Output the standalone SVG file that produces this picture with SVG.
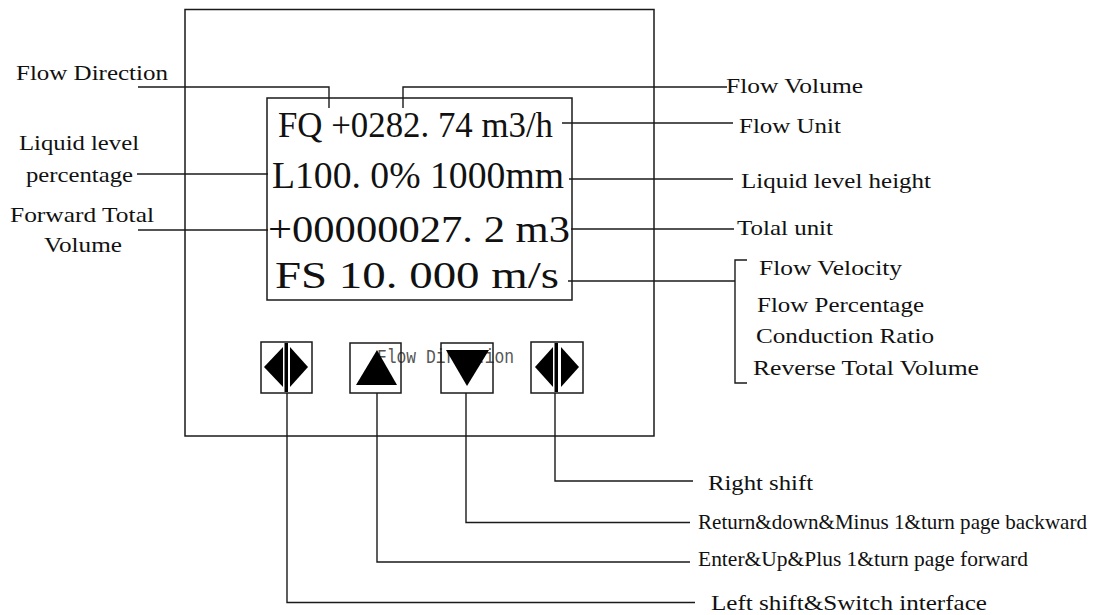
<svg xmlns="http://www.w3.org/2000/svg" width="1111" height="615" viewBox="0 0 1111 615">
<style>
.ln{fill:none;stroke:#1a1a1a;stroke-width:1.4}
.bx{fill:none;stroke:#1a1a1a;stroke-width:1.5}
.lb{fill:#111;font-size:22px}
.lcd{fill:#111}
.ghost{fill:#555;font-size:20px}
.sym{fill:#000;stroke:none}
</style>
<rect width="1111" height="615" fill="#fff"/>

<g id="panel">
  <rect class="bx" x="185" y="9.5" width="469" height="426.5"/>
</g>

<g id="display" font-family="Liberation Serif, Tinos, Times New Roman, Times, serif">
  <rect class="bx" x="267" y="98" width="305" height="202"/>
  <text class="lcd" x="278" y="137" font-size="35" textLength="275" lengthAdjust="spacingAndGlyphs">FQ +0282. 74 m3/h</text>
  <text class="lcd" x="272" y="188" font-size="38" textLength="292" lengthAdjust="spacingAndGlyphs">L100. 0% 1000mm</text>
  <text class="lcd" x="268" y="242" font-size="38" textLength="302" lengthAdjust="spacingAndGlyphs">+00000027. 2 m3</text>
  <text class="lcd" x="275" y="288" font-size="37" textLength="284" lengthAdjust="spacingAndGlyphs">FS 10. 000 m/s</text>
</g>

<text class="ghost" font-family="Liberation Mono, Cousine, Courier New, monospace" x="377" y="363" textLength="137" lengthAdjust="spacingAndGlyphs">Flow Direction</text>

<g id="btn-left">
  <rect class="bx" x="261" y="342" width="51" height="51"/>
  <polygon class="sym" points="264,367 283,347 283,387"/>
  <rect class="sym" x="284.5" y="343" width="3.5" height="49"/>
  <polygon class="sym" points="290,347 308,367 290,387"/>
</g>
<g id="btn-up">
  <rect class="bx" x="350" y="343" width="51" height="50"/>
  <polygon class="sym" points="377,350 397,385 356,385"/>
</g>
<g id="btn-down">
  <rect class="bx" x="441" y="343" width="52" height="50"/>
  <polygon class="sym" points="446,350 489,350 467,386"/>
</g>
<g id="btn-right">
  <rect class="bx" x="531" y="342" width="52" height="51"/>
  <polygon class="sym" points="535,367 553,347 553,387"/>
  <rect class="sym" x="554.5" y="343" width="3.5" height="49"/>
  <polygon class="sym" points="561,347 579,367 561,387"/>
</g>

<g id="connectors">
  <polyline class="ln" points="138,87 329,87 329,108"/>
  <polyline class="ln" points="403,108 403,87 727,87"/>
  <line class="ln" x1="562" y1="123" x2="733" y2="123"/>
  <line class="ln" x1="569" y1="179" x2="733" y2="179"/>
  <line class="ln" x1="571" y1="229" x2="734" y2="229"/>
  <line class="ln" x1="568" y1="281" x2="735" y2="281"/>
  <polyline class="ln" points="747,260 735,260 735,383 747,383"/>
  <line class="ln" x1="137" y1="174" x2="268" y2="174"/>
  <line class="ln" x1="138" y1="230" x2="268" y2="230"/>
  <polyline class="ln" points="287,393 287,602.5 695,602.5"/>
  <polyline class="ln" points="377,393 377,562 690,562"/>
  <polyline class="ln" points="466,393 466,522.5 690,522.5"/>
  <polyline class="ln" points="555,393 555,481 693,481"/>
</g>

<g id="labels" font-family="Liberation Serif, Tinos, Times New Roman, Times, serif">
<g id="label-flow-direction"><text class="lb" x="16" y="80" textLength="152" lengthAdjust="spacingAndGlyphs">Flow Direction</text></g>
<g id="label-liquid-pct">
  <text class="lb" x="19" y="150" textLength="120" lengthAdjust="spacingAndGlyphs">Liquid level</text>
  <text class="lb" x="26" y="182" textLength="107" lengthAdjust="spacingAndGlyphs">percentage</text>
</g>
<g id="label-forward">
  <text class="lb" x="10" y="222" textLength="144" lengthAdjust="spacingAndGlyphs">Forward Total</text>
  <text class="lb" x="44" y="252" textLength="78" lengthAdjust="spacingAndGlyphs">Volume</text>
</g>
<g id="label-flow-volume"><text class="lb" x="726" y="93" textLength="137" lengthAdjust="spacingAndGlyphs">Flow Volume</text></g>
<g id="label-flow-unit"><text class="lb" x="739" y="133" textLength="102" lengthAdjust="spacingAndGlyphs">Flow Unit</text></g>
<g id="label-liquid-height"><text class="lb" x="741" y="188" textLength="190" lengthAdjust="spacingAndGlyphs">Liquid level height</text></g>
<g id="label-total-unit"><text class="lb" x="737" y="235" textLength="96" lengthAdjust="spacingAndGlyphs">Tolal unit</text></g>
<g id="label-fs-options">
  <text class="lb" x="759" y="275" textLength="143" lengthAdjust="spacingAndGlyphs">Flow Velocity</text>
  <text class="lb" x="757" y="312" textLength="167" lengthAdjust="spacingAndGlyphs">Flow Percentage</text>
  <text class="lb" x="756" y="343" textLength="178" lengthAdjust="spacingAndGlyphs">Conduction Ratio</text>
  <text class="lb" x="753" y="375" textLength="226" lengthAdjust="spacingAndGlyphs">Reverse Total Volume</text>
</g>
<g id="label-right-shift"><text class="lb" x="708" y="490" font-size="24.5" textLength="105" lengthAdjust="spacingAndGlyphs">Right shift</text></g>
<g id="label-return"><text class="lb" x="698" y="529" font-size="20.5" textLength="389" lengthAdjust="spacingAndGlyphs">Return&amp;down&amp;Minus 1&amp;turn page backward</text></g>
<g id="label-enter"><text class="lb" x="698" y="566" font-size="20.5" textLength="330" lengthAdjust="spacingAndGlyphs">Enter&amp;Up&amp;Plus 1&amp;turn page forward</text></g>
<g id="label-left-shift"><text class="lb" x="711" y="610" font-size="25" textLength="276" lengthAdjust="spacingAndGlyphs">Left shift&amp;Switch interface</text></g>
</g>
</svg>
